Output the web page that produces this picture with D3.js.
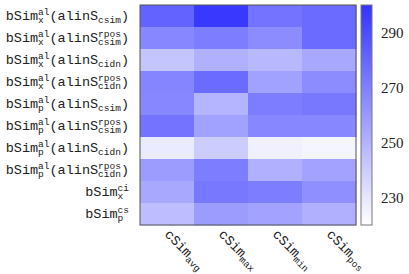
<!DOCTYPE html>
<html>
<head>
<meta charset="utf-8">
<script src="https://cdn.jsdelivr.net/npm/d3@7"></script>
<style>
  body { margin: 0; background: #fff; }
  svg { display: block; }
</style>
</head>
<body>
<svg id="chart"></svg>
<script>
// row labels: [base, sup, sub] pieces
const rowLabels = [
  [["bSim", "al", "x"], ["(alinS", "", "csim"], [")"]],
  [["bSim", "al", "x"], ["(alinS", "rpos", "csim"], [")"]],
  [["bSim", "al", "x"], ["(alinS", "", "cidn"], [")"]],
  [["bSim", "al", "x"], ["(alinS", "rpos", "cidn"], [")"]],
  [["bSim", "al", "p"], ["(alinS", "", "csim"], [")"]],
  [["bSim", "al", "p"], ["(alinS", "rpos", "csim"], [")"]],
  [["bSim", "al", "p"], ["(alinS", "", "cidn"], [")"]],
  [["bSim", "al", "p"], ["(alinS", "rpos", "cidn"], [")"]],
  [["bSim", "ci", "x"]],
  [["bSim", "cs", "p"]]
];
const colLabels = [["cSim", "avg"], ["cSim", "max"], ["cSim", "min"], ["cSim", "pos"]];

const values = [
  [281, 298, 275, 278],
  [267, 271, 265, 278],
  [243, 251, 248, 254],
  [268, 278, 257, 265],
  [267, 249, 271, 273],
  [275, 257, 267, 267],
  [228, 240, 226, 224],
  [259, 271, 251, 256],
  [254, 273, 271, 264],
  [246, 259, 256, 251]
];
const colorDomain = [220, 300];
const colorTicks = [230, 250, 270, 290];

const width = 409, height = 274;
const hm = { left: 140, top: 5, right: 356, bottom: 225 };
const cb = { left: 361, right: 372 };

const svg = d3.select("#chart").attr("width", width).attr("height", height);

const x = d3.scaleBand().domain(d3.range(colLabels.length)).range([hm.left, hm.right]);
const y = d3.scaleBand().domain(d3.range(rowLabels.length)).range([hm.top, hm.bottom]);
const color = d3.scaleLinear().domain(colorDomain).range(["#ffffff", "#3333ff"]).clamp(true);

const cells = [];
values.forEach((row, i) => row.forEach((v, j) => cells.push({ i, j, v })));

svg.append("g").selectAll("rect")
  .data(cells)
  .enter().append("rect")
  .attr("x", d => x(d.j))
  .attr("y", d => y(d.i))
  .attr("width", x.bandwidth() + 0.5)
  .attr("height", y.bandwidth() + 0.5)
  .attr("fill", d => color(d.v));

svg.append("rect")
  .attr("x", hm.left).attr("y", hm.top)
  .attr("width", hm.right - hm.left).attr("height", hm.bottom - hm.top)
  .attr("fill", "none").attr("stroke", "#555").attr("stroke-width", 1);

// row labels, built from pieces, right aligned
const mono = "'Liberation Mono', 'DejaVu Sans Mono', monospace";
const fs = 13.5, sfs = 9.5;
const bw = fs * 0.6, sw = sfs * 0.6;
const labelRight = 129;

rowLabels.forEach((pieces, i) => {
  const total = d3.sum(pieces, p => p[0].length * bw + Math.max((p[1] || "").length, (p[2] || "").length) * sw);
  let cx = labelRight - total;
  const cy = y(i) + y.bandwidth() / 2 + 4;
  const g = svg.append("g").style("font-family", mono).attr("fill", "#222");
  pieces.forEach(p => {
    g.append("text").attr("x", cx).attr("y", cy).style("font-size", fs + "px").text(p[0]);
    cx += p[0].length * bw;
    if (p[1]) g.append("text").attr("x", cx).attr("y", cy - 5).style("font-size", sfs + "px").text(p[1]);
    if (p[2]) g.append("text").attr("x", cx).attr("y", cy + 3).style("font-size", sfs + "px").text(p[2]);
    cx += Math.max((p[1] || "").length, (p[2] || "").length) * sw;
  });
});

// column labels rotated
colLabels.forEach((p, j) => {
  const cx = x(j) + x.bandwidth() / 2 + 4;
  const g = svg.append("g")
    .attr("transform", `translate(${cx},${hm.bottom + 3}) rotate(45)`)
    .style("font-family", mono).attr("fill", "#222");
  g.append("text").attr("x", 0).attr("y", 10).style("font-size", fs + "px").text(p[0]);
  g.append("text").attr("x", p[0].length * bw).attr("y", 13).style("font-size", sfs + "px").text(p[1]);
});

// colorbar
const cy = d3.scaleLinear().domain(colorDomain).range([hm.bottom, hm.top]);
const defs = svg.append("defs");
const grad = defs.append("linearGradient").attr("id", "cbar")
  .attr("x1", 0).attr("y1", 1).attr("x2", 0).attr("y2", 0);
grad.selectAll("stop")
  .data(d3.range(0, 1.0001, 0.1))
  .enter().append("stop")
  .attr("offset", d => `${d * 100}%`)
  .attr("stop-color", d => color(colorDomain[0] + d * (colorDomain[1] - colorDomain[0])));

svg.append("rect")
  .attr("x", cb.left).attr("y", cy(colorDomain[1]))
  .attr("width", cb.right - cb.left).attr("height", cy(colorDomain[0]) - cy(colorDomain[1]))
  .attr("fill", "url(#cbar)").attr("stroke", "#777").attr("stroke-width", 1);

svg.append("g")
  .selectAll("text")
  .data(colorTicks)
  .enter().append("text")
  .attr("x", 381)
  .attr("y", d => cy(d) + 5)
  .style("font-family", "'Liberation Serif', 'DejaVu Serif', serif")
  .style("font-size", "15px")
  .attr("fill", "#222")
  .text(d => d);
</script>
</body>
</html>
